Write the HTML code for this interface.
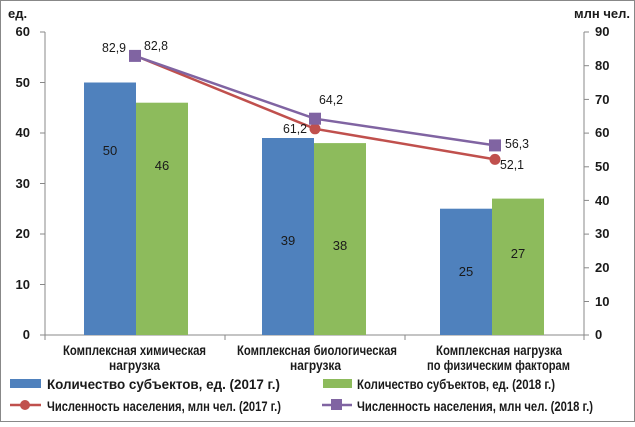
<!DOCTYPE html>
<html><head><meta charset="utf-8"><style>
body{margin:0;background:#fff}
svg text{font-family:"Liberation Sans Narrow","Liberation Sans",sans-serif;font-size:13px;fill:#1a1a1a}
.b{font-weight:bold}
.l{font-size:14px}
</style></head><body>
<svg width="635" height="422" xmlns="http://www.w3.org/2000/svg">
<rect x="0.5" y="0.5" width="634" height="421" fill="#fff" stroke="#888"/>
<g stroke="#888" stroke-width="1">
<line x1="45" y1="32" x2="45" y2="335"/><line x1="584" y1="32" x2="584" y2="335"/>
<line x1="45" y1="335" x2="584" y2="335"/>
<line x1="40" y1="32" x2="45" y2="32"/><line x1="40" y1="82.5" x2="45" y2="82.5"/><line x1="40" y1="133" x2="45" y2="133"/><line x1="40" y1="183.5" x2="45" y2="183.5"/><line x1="40" y1="234" x2="45" y2="234"/><line x1="40" y1="284.5" x2="45" y2="284.5"/><line x1="40" y1="335" x2="45" y2="335"/>
<line x1="584" y1="32" x2="589" y2="32"/><line x1="584" y1="65.7" x2="589" y2="65.7"/><line x1="584" y1="99.4" x2="589" y2="99.4"/><line x1="584" y1="133.1" x2="589" y2="133.1"/><line x1="584" y1="166.8" x2="589" y2="166.8"/><line x1="584" y1="200.4" x2="589" y2="200.4"/><line x1="584" y1="234.1" x2="589" y2="234.1"/><line x1="584" y1="267.8" x2="589" y2="267.8"/><line x1="584" y1="301.5" x2="589" y2="301.5"/><line x1="584" y1="335" x2="589" y2="335"/>
<line x1="225" y1="335" x2="225" y2="340"/><line x1="405" y1="335" x2="405" y2="340"/><line x1="45" y1="335" x2="45" y2="340"/><line x1="584" y1="335" x2="584" y2="340"/>
</g>
<g class="b" text-anchor="end">
<text x="30" y="36" class="b">60</text><text x="30" y="87" class="b">50</text><text x="30" y="137" class="b">40</text><text x="30" y="188" class="b">30</text><text x="30" y="238" class="b">20</text><text x="30" y="289" class="b">10</text><text x="30" y="339" class="b">0</text>
</g>
<g text-anchor="start">
<text x="595" y="36" class="b">90</text><text x="595" y="70" class="b">80</text><text x="595" y="104" class="b">70</text><text x="595" y="137" class="b">60</text><text x="595" y="171" class="b">50</text><text x="595" y="205" class="b">40</text><text x="595" y="238" class="b">30</text><text x="595" y="272" class="b">20</text><text x="595" y="306" class="b">10</text><text x="595" y="339" class="b">0</text>
</g>
<text x="8" y="18" class="b">ед.</text>
<text x="630" y="18" class="b" text-anchor="end">млн чел.</text>
<g>
<rect x="84" y="82.5" width="52" height="252.5" fill="#4f81bd"/>
<rect x="136" y="102.7" width="52" height="232.3" fill="#8dbb5c"/>
<rect x="262" y="138" width="52" height="197" fill="#4f81bd"/>
<rect x="314" y="143.1" width="52" height="191.9" fill="#8dbb5c"/>
<rect x="440" y="208.7" width="52" height="126.3" fill="#4f81bd"/>
<rect x="492" y="198.6" width="52" height="136.4" fill="#8dbb5c"/>
</g>
<g text-anchor="middle">
<text x="110" y="155">50</text><text x="162" y="170">46</text>
<text x="288" y="245">39</text><text x="340" y="250">38</text>
<text x="466" y="276">25</text><text x="518" y="258">27</text>
</g>
<polyline points="135,55.6 315,128.8 495,159.4" fill="none" stroke="#c0504d" stroke-width="2.5"/>
<polyline points="135,55.9 315,118.7 495,145.4" fill="none" stroke="#8064a2" stroke-width="2.5"/>
<circle cx="135" cy="55.6" r="5.5" fill="#c0504d"/><circle cx="315" cy="128.8" r="5.5" fill="#c0504d"/><circle cx="495" cy="159.4" r="5.5" fill="#c0504d"/>
<rect x="129" y="49.9" width="12" height="12" fill="#8064a2"/><rect x="309" y="112.7" width="12" height="12" fill="#8064a2"/><rect x="489" y="139.4" width="12" height="12" fill="#8064a2"/>
<text x="102" y="52" textLength="24" lengthAdjust="spacingAndGlyphs">82,9</text><text x="144" y="50" textLength="24" lengthAdjust="spacingAndGlyphs">82,8</text>
<text x="283" y="133" textLength="24" lengthAdjust="spacingAndGlyphs">61,2</text><text x="319" y="104" textLength="24" lengthAdjust="spacingAndGlyphs">64,2</text>
<text x="500" y="169" textLength="24" lengthAdjust="spacingAndGlyphs">52,1</text><text x="505" y="148" textLength="24" lengthAdjust="spacingAndGlyphs">56,3</text>
<text x="63" y="355" class="b l" textLength="143" lengthAdjust="spacingAndGlyphs">Комплексная химическая</text><text x="109" y="370" class="b l" textLength="51" lengthAdjust="spacingAndGlyphs">нагрузка</text>
<text x="237" y="355" class="b l" textLength="160" lengthAdjust="spacingAndGlyphs">Комплексная биологическая</text><text x="290" y="370" class="b l" textLength="51" lengthAdjust="spacingAndGlyphs">нагрузка</text>
<text x="436" y="355" class="b l" textLength="126" lengthAdjust="spacingAndGlyphs">Комплексная нагрузка</text><text x="427" y="370" class="b l" textLength="143" lengthAdjust="spacingAndGlyphs">по физическим факторам</text>
<rect x="10" y="379" width="31" height="9" fill="#4f81bd"/>
<text x="47" y="389" class="b l" textLength="233" lengthAdjust="spacingAndGlyphs">Количество субъектов, ед. (2017 г.)</text>
<rect x="323" y="379" width="29" height="9" fill="#8dbb5c"/>
<text x="357" y="389" class="b l" textLength="198" lengthAdjust="spacingAndGlyphs">Количество субъектов, ед. (2018 г.)</text>
<line x1="10" y1="405" x2="41" y2="405" stroke="#c0504d" stroke-width="2.5"/><circle cx="25" cy="405" r="5" fill="#c0504d"/>
<text x="47" y="411" class="b l" textLength="234" lengthAdjust="spacingAndGlyphs">Численность населения, млн чел. (2017 г.)</text>
<line x1="322" y1="405" x2="352" y2="405" stroke="#8064a2" stroke-width="2.5"/><rect x="331" y="399" width="11" height="11" fill="#8064a2"/>
<text x="357" y="411" class="b l" textLength="236" lengthAdjust="spacingAndGlyphs">Численность населения, млн чел. (2018 г.)</text>
</svg>
</body></html>
